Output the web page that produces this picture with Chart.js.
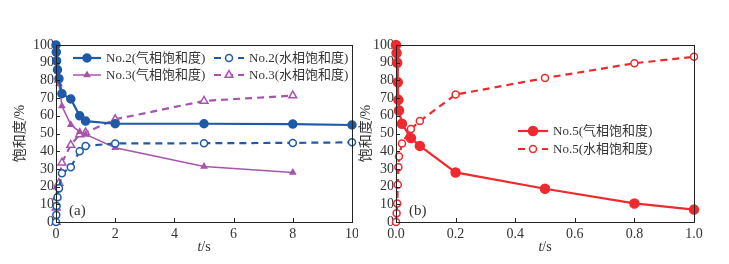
<!DOCTYPE html>
<html>
<head>
<meta charset="utf-8">
<script src="https://cdn.jsdelivr.net/npm/chart.js@4"></script>
<style>
  html, body { margin: 0; padding: 0; background: #fff; }
  #wrap { position: relative; width: 729px; height: 264px; }
  canvas { position: absolute; top: 0; }
</style>
</head>
<body>
<div id="wrap">
  <canvas id="chartA" width="358" height="264" style="left:0;width:358px;height:264px"></canvas>
  <canvas id="chartB" width="371" height="264" style="left:358px;width:371px;height:264px"></canvas>
</div>
<script>
// ---- data (a) ----
const tA2 = [0, 0.01, 0.02, 0.05, 0.1, 0.2, 0.5, 0.8, 1, 2, 5, 8, 10];
const no2Gas = [100, 96, 91, 86, 81, 72.5, 69.5, 60, 57, 55.5, 55.5, 55.3, 54.8];
const no2Water = [0, 4, 9, 14, 19, 27.5, 31, 40, 43, 44.4, 44.5, 44.7, 45];
const tA3 = [0, 0.01, 0.02, 0.05, 0.1, 0.2, 0.5, 0.8, 1, 2, 5, 8];
const no3Gas = [100, 92, 86, 80, 78, 65.5, 55, 51, 49.5, 42, 31.4, 28];
const no3Water = [0, 8, 14, 20, 22, 33.5, 43.5, 49.5, 50.5, 58, 68.4, 71.4];
const ticksA = [0, 2, 4, 6, 8, 10];

// ---- data (b) ----
const tB = [0, 0.002, 0.004, 0.006, 0.008, 0.01, 0.02, 0.05, 0.08, 0.2, 0.5, 0.8, 1.0];
const no5Gas = [100, 95.5, 90, 79, 69, 63, 55.5, 47.5, 43, 28, 18.8, 10.5, 7];
const no5Water = [0, 5, 10.5, 21, 31, 37, 44.4, 52.5, 57, 72, 81.3, 89.7, 93.3];
const ticksB = [0, 0.2, 0.4, 0.6, 0.8, 1.0];
const ticksY = [0, 10, 20, 30, 40, 50, 60, 70, 80, 90, 100];

const BLUE = '#1f5aa8';
const PURPLE = '#a654ad';
const RED = '#ee2a2e';
const FONT = '"Liberation Serif", "Noto Sans CJK SC", serif';

function pts(xs, ys) { return xs.map((x, i) => ({ x: x, y: ys[i] })); }

function ds(label, xs, ys, color, opt) {
  return Object.assign({
    label: label,
    data: pts(xs, ys),
    showLine: true,
    clip: false,
    borderColor: color,
    pointBorderColor: color,
    backgroundColor: color,
    pointBackgroundColor: color,
    borderWidth: 2.2,
    pointRadius: 3.5,
    pointBorderWidth: 1.5,
    pointStyle: 'circle',
    tension: 0
  }, opt);
}

// frame, inward ticks, titles, tag and legend
const decor = {
  id: 'decor',
  afterDraw(chart, args, o) {
    const ctx = chart.ctx, a = chart.chartArea;
    const xs = chart.scales.x, ys = chart.scales.y;
    ctx.save();
    ctx.strokeStyle = '#222';
    ctx.lineWidth = 1;
    ctx.strokeRect(a.left + 0.5, a.top + 0.5, a.right - a.left, a.bottom - a.top);
    o.xticks.forEach(v => {
      const px = Math.round(xs.getPixelForValue(v)) + 0.5;
      ctx.beginPath(); ctx.moveTo(px, a.bottom); ctx.lineTo(px, a.bottom - 4); ctx.stroke();
    });
    ticksY.forEach(v => {
      const py = Math.round(ys.getPixelForValue(v)) + 0.5;
      ctx.beginPath(); ctx.moveTo(a.left, py); ctx.lineTo(a.left + 4, py); ctx.stroke();
    });
    // axis titles
    ctx.fillStyle = '#333';
    ctx.textBaseline = 'middle';
    ctx.font = 'italic 14px ' + FONT;
    const cx = (a.left + a.right) / 2;
    const tw = ctx.measureText('t').width;
    ctx.font = '14px ' + FONT;
    const sw = ctx.measureText('/s').width;
    let sx = cx - (tw + sw) / 2;
    ctx.textAlign = 'left';
    ctx.font = 'italic 14px ' + FONT;
    ctx.fillText('t', sx, 247);
    ctx.font = '14px ' + FONT;
    ctx.fillText('/s', sx + tw, 247);
    ctx.save();
    ctx.translate(o.ytitleX, (a.top + a.bottom) / 2);
    ctx.rotate(-Math.PI / 2);
    ctx.textAlign = 'center';
    ctx.font = '14px ' + FONT;
    ctx.fillText('饱和度/%', 0, 0);
    ctx.restore();
    // panel tag
    ctx.textAlign = 'left';
    ctx.font = '15px ' + FONT;
    ctx.fillText(o.tag, a.left + 13, 211);
    // legend
    o.legend.forEach(it => {
      const d = chart.data.datasets[it.index];
      ctx.save();
      ctx.strokeStyle = d.borderColor;
      ctx.lineWidth = d.borderWidth;
      ctx.setLineDash(d.borderDash || []);
      ctx.beginPath(); ctx.moveTo(it.x, it.y); ctx.lineTo(it.x + it.len, it.y); ctx.stroke();
      ctx.setLineDash([]);
      ctx.fillStyle = d.pointBackgroundColor;
      ctx.strokeStyle = d.pointBorderColor;
      ctx.lineWidth = d.pointBorderWidth;
      Chart.helpers.drawPoint(ctx, { pointStyle: d.pointStyle, rotation: 0, radius: d.pointRadius, borderWidth: d.pointBorderWidth }, it.x + it.len / 2, it.y);
      ctx.restore();
      ctx.fillStyle = '#333';
      ctx.textAlign = 'left';
      ctx.textBaseline = 'middle';
      ctx.font = '13px ' + FONT;
      ctx.fillText(d.label, it.x + it.len + 5, it.y + 1);
    });
    ctx.restore();
  }
};

function makeChart(id, datasets, xmax, xticks, pad, yw, decorOpts) {
  return new Chart(document.getElementById(id), {
    type: 'scatter',
    data: { datasets: datasets },
    options: {
      responsive: false,
      animation: false,
      layout: { padding: pad },
      plugins: { legend: { display: false }, tooltip: { enabled: false }, decor: decorOpts },
      scales: {
        x: {
          type: 'linear', min: 0, max: xmax,
          afterBuildTicks: s => { s.ticks = xticks.map(v => ({ value: v })); },
          afterFit: s => { s.height = 42; s.paddingLeft = 0; s.paddingRight = 0; },
          grid: { display: false, drawTicks: false },
          border: { display: false },
          ticks: {
            autoSkip: false, maxRotation: 0,
            padding: 4, color: '#333', font: { family: FONT, size: 14 },
            callback: v => xmax === 1 ? v.toFixed(1) : String(v)
          }
        },
        y: {
          type: 'linear', min: 0, max: 100,
          afterBuildTicks: s => { s.ticks = ticksY.map(v => ({ value: v })); },
          afterFit: s => { s.width = yw; s.paddingTop = 0; s.paddingBottom = 0; },
          grid: { display: false, drawTicks: false },
          border: { display: false },
          ticks: { autoSkip: false, padding: 2, color: '#333', font: { family: FONT, size: 14 } }
        }
      }
    },
    plugins: [decor]
  });
}

makeChart('chartA', [
  ds('No.2(气相饱和度)', tA2, no2Gas, BLUE, { pointRadius: 4 }),
  ds('No.2(水相饱和度)', tA2, no2Water, BLUE, { borderDash: [7, 5], pointBackgroundColor: '#fff', pointRadius: 3.5 }),
  ds('No.3(气相饱和度)', tA3, no3Gas, PURPLE, { borderWidth: 1.5, pointStyle: 'triangle', pointRadius: 3 }),
  ds('No.3(水相饱和度)', tA3, no3Water, PURPLE, { borderDash: [7, 5], pointStyle: 'triangle', pointBackgroundColor: '#fff', pointRadius: 4.5 })
], 10, ticksA, { left: 0, right: 3, top: 45, bottom: 0 }, 56, {
  xticks: ticksA, ytitleX: 20, tag: '(a)',
  legend: [
    { index: 0, x: 73, y: 58, len: 28 },
    { index: 1, x: 214, y: 58, len: 30 },
    { index: 2, x: 73, y: 75, len: 28 },
    { index: 3, x: 214, y: 75, len: 30 }
  ]
});

makeChart('chartB', [
  ds('No.5(气相饱和度)', tB, no5Gas, RED, { pointRadius: 4.5 }),
  ds('No.5(水相饱和度)', tB, no5Water, RED, { borderDash: [7, 5], pointBackgroundColor: '#fff', pointRadius: 3.5 })
], 1, ticksB, { left: 0, right: 35, top: 45, bottom: 0 }, 38, {
  xticks: ticksB, ytitleX: 8, tag: '(b)',
  legend: [
    { index: 0, x: 160, y: 131, len: 30 },
    { index: 1, x: 160, y: 149, len: 30 }
  ]
});
</script>
</body>
</html>
